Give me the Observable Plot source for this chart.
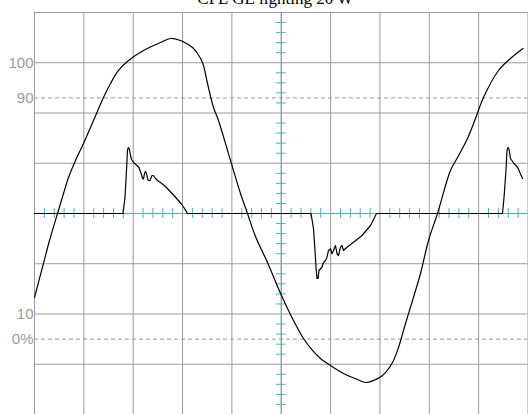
<!DOCTYPE html>
<html>
<head>
<meta charset="utf-8">
<script src="https://cdn.jsdelivr.net/npm/d3@7"></script>
<script src="https://cdn.jsdelivr.net/npm/@observablehq/plot@0.6"></script>
<style>
  html, body { margin: 0; padding: 0; background: #fff; }
  #chart svg { display: block; }
</style>
</head>
<body>
<div id="chart"></div>
<script>
// Scope screen: 10 horizontal x 8 vertical divisions, centre at (5, 0).
const title = "CFL GE lighting 20 W";

// Line voltage trace (time div, amplitude div)
const voltT = [0.000, 0.182, 0.304, 0.466, 0.588, 0.689, 0.831, 0.993, 1.196, 1.398, 1.540, 1.702, 1.905, 2.209, 2.553, 2.756, 2.958, 3.080, 3.202, 3.303, 3.404, 3.506, 3.627, 3.728, 3.972, 4.174, 4.316, 4.478, 4.721, 5.005, 5.248, 5.451, 5.633, 5.795, 5.998, 6.261, 6.545, 6.707, 6.869, 7.052, 7.254, 7.376, 7.518, 7.660, 7.822, 7.984, 8.166, 8.429, 8.571, 8.774, 8.936, 9.098, 9.402, 9.645, 9.899];
const voltV = [-1.672, -0.995, -0.537, 0.000, 0.398, 0.716, 1.055, 1.393, 1.851, 2.308, 2.587, 2.846, 3.045, 3.244, 3.403, 3.483, 3.443, 3.383, 3.303, 3.184, 3.005, 2.587, 2.109, 1.851, 1.055, 0.398, 0.000, -0.458, -0.975, -1.632, -2.129, -2.488, -2.726, -2.886, -3.025, -3.184, -3.303, -3.363, -3.323, -3.224, -2.965, -2.667, -2.189, -1.731, -1.194, -0.537, 0.000, 0.856, 1.114, 1.493, 1.891, 2.308, 2.846, 3.085, 3.284];

// Lamp current trace (time div, amplitude div)
const currT = [0.000, 1.793, 1.834, 1.864, 1.884, 1.901, 1.921, 1.945, 1.966, 2.016, 2.077, 2.118, 2.138, 2.168, 2.188, 2.209, 2.229, 2.249, 2.269, 2.290, 2.310, 2.340, 2.381, 2.411, 2.432, 2.492, 2.553, 2.665, 2.827, 2.969, 3.040, 3.100,
  5.603, 5.653, 5.684, 5.704, 5.724, 5.745, 5.765, 5.826, 5.856, 5.897, 5.927, 5.957, 5.998, 6.028, 6.059, 6.099, 6.130, 6.160, 6.201, 6.231, 6.261, 6.332, 6.464, 6.636, 6.809, 6.900, 6.930,
  9.483, 9.514, 9.554, 9.574, 9.595, 9.615, 9.645, 9.716, 9.787, 9.818, 9.848, 9.889];
const currI = [0.000, 0.000, 0.318, 0.856, 1.254, 1.313, 1.284, 1.154, 1.075, 1.005, 0.955, 0.915, 0.856, 0.776, 0.697, 0.687, 0.796, 0.836, 0.796, 0.697, 0.657, 0.657, 0.756, 0.756, 0.726, 0.657, 0.617, 0.527, 0.358, 0.199, 0.100, 0.000,
  0.000, -0.299, -0.736, -1.075, -1.294, -1.294, -1.134, -1.065, -0.975, -0.935, -0.870, -0.736, -0.702, -0.802, -0.736, -0.637, -0.802, -0.836, -0.671, -0.637, -0.736, -0.671, -0.571, -0.438, -0.239, -0.060, 0.000,
  0.000, 0.318, 0.856, 1.254, 1.313, 1.284, 1.095, 0.995, 0.921, 0.856, 0.786, 0.697];

// Graticule reference levels and their labels
const refLevels = [3, 2.3, -2, -2.5];
const refLabels = ["100", "90", "10", "0%"];
const dashedLevels = [2.3, -2.5];

const voltage = voltT.map((t, i) => ({t, v: voltV[i]}));
const current = currT.map((t, i) => ({t, v: currI[i]}));
const labels = refLevels.map((y, i) => ({y, text: refLabels[i]}));

const gridX = d3.range(0, 11);
const gridY = d3.range(-4, 5);
const minorX = d3.range(1, 50).map(k => k / 5).filter(v => Math.abs(v - Math.round(v)) > 1e-6);
const minorY = d3.range(-19, 20).map(k => k / 5).filter(v => Math.abs(v - Math.round(v)) > 1e-6);

const gray = "#9a9a9a";
const teal = "#52b2b2";

const chart = Plot.plot({
  width: 528,
  height: 414,
  marginLeft: 34,
  marginRight: 0.5,
  marginTop: 12,
  marginBottom: 0,
  x: {domain: [0, 10], axis: null},
  y: {domain: [-4, 4], axis: null},
  style: {background: "#fff"},
  marks: [
    Plot.ruleX(gridX, {stroke: gray, strokeWidth: 1}),
    Plot.ruleY(gridY, {stroke: gray, strokeWidth: 1}),
    Plot.ruleY(dashedLevels, {stroke: gray, strokeDasharray: "4,3"}),
    Plot.ruleX([5], {stroke: teal}),
    Plot.ruleY([0], {stroke: teal}),
    Plot.ruleX(minorX, {y1: -0.1, y2: 0.1, stroke: teal}),
    Plot.ruleY(minorY, {x1: 4.9, x2: 5.1, stroke: teal}),
    Plot.line(current, {x: "t", y: "v", stroke: "#000", strokeWidth: 1.2}),
    Plot.line(voltage, {x: "t", y: "v", stroke: "#000", strokeWidth: 1.2, curve: "catmull-rom"}),
    Plot.text(labels, {x: 0, y: "y", text: "text", textAnchor: "end", dx: -1, fill: gray,
      fontSize: 15, fontFamily: "'Liberation Sans Narrow', 'Liberation Sans', sans-serif"}),
    Plot.text([title], {frameAnchor: "top", dy: -8.5, dx: -6, lineAnchor: "bottom", fill: "#000",
      fontSize: 17, fontFamily: "'Liberation Serif', 'DejaVu Serif', serif"})
  ]
});

document.getElementById("chart").append(chart);
</script>
</body>
</html>
